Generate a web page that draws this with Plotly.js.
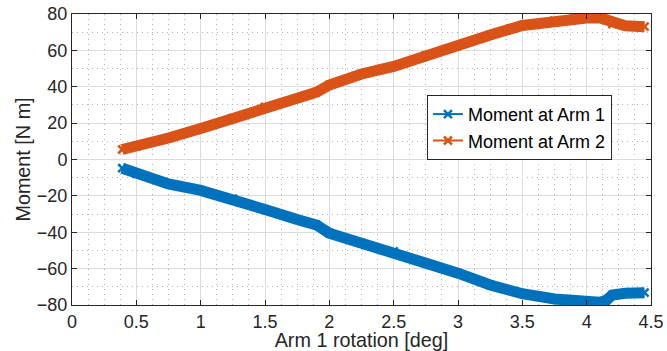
<!DOCTYPE html>
<html>
<head>
<meta charset="utf-8">
<script src="https://cdn.plot.ly/plotly-3.0.1.min.js"></script>
<style>
  html, body { margin: 0; padding: 0; background: #fff; }
  #chart { width: 667px; height: 351px; }
</style>
</head>
<body>
<div id="chart"></div>
<script>
// Arm 1 rotation [deg]
var rotation = [0.39, 0.5, 0.75, 1.0, 1.25, 1.5, 1.75, 1.9, 2.0, 2.25, 2.5, 2.75, 3.0, 3.25, 3.5, 3.75, 3.9, 4.0, 4.1, 4.15, 4.2, 4.3, 4.45];
// Moment at Arm 1 [N m]
var momentArm1 = [-4.8, -7.9, -13.4, -17, -21.5, -27.5, -33, -36, -40.5, -46, -50.5, -57, -62.5, -69, -73.8, -76.7, -77.8, -78.5, -78.5, -77.5, -74.5, -73.5, -73.2];
// Moment at Arm 2 [N m]
var momentArm2 = [5.5, 7.2, 11.8, 17, 22.8, 29, 33.5, 37, 41, 47, 51.2, 57.3, 62.6, 68.5, 73.7, 76.3, 77.3, 77.8, 78, 77, 74.5, 73.5, 73];

var seriesNames = ['Moment at Arm 1', 'Moment at Arm 2'];
var seriesColors = ['#0072BD', '#D95319'];
var xTicks = [0, 0.5, 1, 1.5, 2, 2.5, 3, 3.5, 4, 4.5];
var xTickText = ['0', '0.5', '1', '1.5', '2', '2.5', '3', '3.5', '4', '4.5'];
var yTicks = [-80, -60, -40, -20, 0, 20, 40, 60, 80];

var FONT = 'Liberation Sans, Arial, Helvetica, sans-serif';
var TXT = '#262626';

// thin line + x markers (this is what the legend shows)
function legendTrace(y, name, color) {
  return {
    x: rotation, y: y, name: name, type: 'scatter', mode: 'lines+markers',
    line: {color: color, width: 2},
    marker: {symbol: 'x-thin', size: 8, color: color, line: {color: color, width: 2.5}}
  };
}
// dense marker band drawn over it
function bandTrace(y, name, color) {
  return {
    x: rotation, y: y, name: name, type: 'scatter', mode: 'lines',
    showlegend: false,
    line: {color: color, width: 11}
  };
}

var series = [momentArm1, momentArm2];
var data = [
  legendTrace(series[0], seriesNames[0], seriesColors[0]),
  legendTrace(series[1], seriesNames[1], seriesColors[1]),
  bandTrace(series[0], seriesNames[0], seriesColors[0]),
  bandTrace(series[1], seriesNames[1], seriesColors[1])
];

var axisCommon = {
  showline: true, linecolor: TXT, linewidth: 1, mirror: 'ticks',
  ticks: 'inside', ticklen: 5, tickcolor: TXT, tickwidth: 1,
  showgrid: true, gridcolor: '#dcdcdc', gridwidth: 1,
  zeroline: false,
  tickfont: {family: FONT, size: 18, color: TXT},
  automargin: false
};

var layout = {
  width: 667, height: 351,
  margin: {l: 72, r: 16, t: 14, b: 46},
  paper_bgcolor: '#fff', plot_bgcolor: '#fff',
  font: {family: FONT, color: TXT},
  showlegend: true,
  legend: {
    x: 0.613, y: 0.722, xanchor: 'left', yanchor: 'top',
    bgcolor: '#fff', bordercolor: TXT, borderwidth: 1,
    font: {family: FONT, size: 18, color: '#000'},
    tracegroupgap: 0
  },
  xaxis: Object.assign({}, axisCommon, {
    range: [0, 4.5], tickvals: xTicks, ticktext: xTickText,
    minor: {dtick: 0.125, tick0: 0, showgrid: true, gridcolor: '#b4b4b4', griddash: '1px,4px', gridwidth: 1},
    title: {text: 'Arm 1 rotation [deg]', font: {family: FONT, size: 19.8, color: TXT}, standoff: 0}
  }),
  yaxis: Object.assign({}, axisCommon, {
    range: [-80, 80], tickvals: yTicks,
    minor: {dtick: 10, tick0: 0, showgrid: true, gridcolor: '#b4b4b4', griddash: '1px,4px', gridwidth: 1},
    title: {text: 'Moment [N m]', font: {family: FONT, size: 19.8, color: TXT}, standoff: 0}
  })
};

Plotly.newPlot('chart', data, layout, {staticPlot: true, displayModeBar: false});
</script>
</body>
</html>
